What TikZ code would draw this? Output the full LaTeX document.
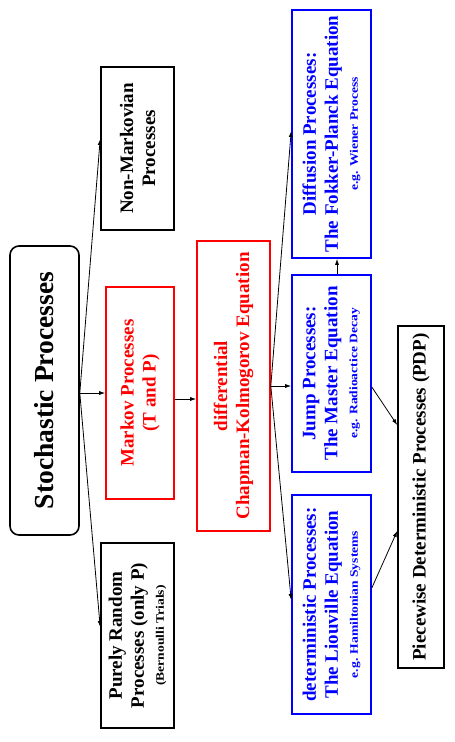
\documentclass[tikz,border=0pt]{standalone}
\usepackage{fontspec}
\setmainfont{Liberation Serif}
\usetikzlibrary{arrows.meta}
\newcommand\bigtxt{\fontsize{19}{22}\selectfont}
\newcommand\smalltxt[1]{{\fontsize{11.5}{20}\selectfont\scalebox{1.18}[1]{#1}}}
\begin{document}
\begin{tikzpicture}[x=1pt,y=-1pt,
  box/.style={draw, line width=1.6pt, inner sep=0pt},
  txt/.style={rotate=90, align=center, font=\bfseries\bigtxt, inner sep=0pt},
  arr/.style={-{Latex[length=6pt,width=4pt]}, line width=0.8pt}]
\useasboundingbox (0,0) rectangle (455,742);
% boxes
\node[box, rounded corners=9pt, minimum width=69, minimum height=289] (stoch) at (44.5,390.5) {};
\node[box, minimum width=73, minimum height=163] (nonm) at (137.5,148.5) {};
\node[box, draw=red, minimum width=68, minimum height=212] (markov) at (140,393) {};
\node[box, minimum width=73, minimum height=185] (purely) at (137.5,635.5) {};
\node[box, draw=red, minimum width=73, minimum height=290] (diff) at (233.5,386) {};
\node[box, draw=blue, minimum width=79, minimum height=248] (diffu) at (331.5,134) {};
\node[box, draw=blue, minimum width=79, minimum height=197] (jump) at (331.5,373.5) {};
\node[box, draw=blue, minimum width=79, minimum height=219] (determ) at (331.5,604.5) {};
\node[box, minimum width=46, minimum height=342] (pdp) at (421,497) {};
% texts
\node[txt, font=\bfseries\fontsize{27.5}{30}\selectfont] (stochT) at (stoch) {Stochastic Processes};
\node[txt] (nonmT) at (nonm) {Non-Markovian\\Processes};
\node[txt, red] (markovT) at (markov) {Markov Processes\\(T and P)};
\node[txt] (purelyT) at (purely) {Purely Random\\Processes (only P)\\[-2pt]\smalltxt{(Bernoulli Trials)}};
\node[txt, red] (diffT) at (diff) {differential\\Chapman-Kolmogorov Equation};
\node[txt, blue] (diffuT) at (diffu) {Diffusion Processes:\\The Fokker-Planck Equation\\[-2pt]\smalltxt{e.g. Wiener Process}};
\node[txt, blue] (jumpT) at (jump) {Jump Processes:\\The Master Equation\\[-2pt]\smalltxt{e.g. Radioactice Decay}};
\node[txt, blue] (determT) at (determ) {deterministic Processes:\\The Liouville Equation\\[-2pt]\smalltxt{e.g. Hamiltonian Systems}};
\node[txt] (pdpT) at (pdp) {Piecewise Deterministic Processes (PDP)};
% connectors
\draw[arr] (stoch.east |- markov.west) -- (markov.west);
\draw[arr] (stoch.east |- markov.west) -- ([yshift=9.5pt]nonm.west);
\draw[arr] (stoch.east |- markov.west) -- ([yshift=8.5pt]purely.west);
\draw[arr] ([yshift=-6pt]markov.east) -- ([yshift=-6pt]markov.east -| diff.west);
\draw[arr] (diff.east) -- (diff.east -| jump.west);
\draw[arr] (diff.east) -- ([yshift=3pt]diffu.west);
\draw[arr] (diff.east) -- ([yshift=4.5pt]determ.west);
\draw[arr] ([xshift=5.5pt]jump.north) -- ([xshift=5.5pt]diffu.south);
\draw[arr] ([yshift=-13.5pt]jump.east) -- ([yshift=72pt]pdp.west);
\draw[arr] ([yshift=16.5pt]determ.east) -- ([yshift=-34pt]pdp.west);
\end{tikzpicture}
\end{document}
